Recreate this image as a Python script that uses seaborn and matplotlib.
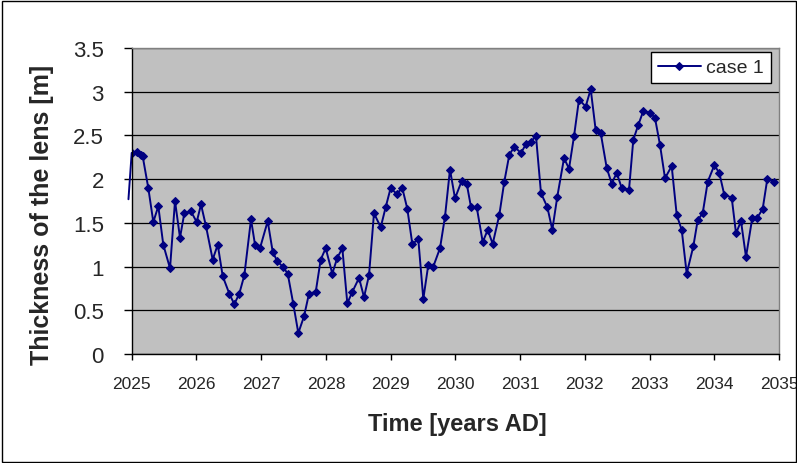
import matplotlib
matplotlib.use("Agg")
import matplotlib.pyplot as plt
import matplotlib.patches as mpatches
from matplotlib.ticker import MultipleLocator, FuncFormatter
import seaborn as sns
import pandas as pd

# ---- data ----
years_offset = [
    0.000, 0.077, 0.139, 0.170, 0.256, 0.334, 0.411, 0.488, 0.592, 0.669,
    0.746, 0.813, 0.916, 1.004, 1.071, 1.148, 1.251, 1.329, 1.406, 1.508,
    1.585, 1.662, 1.740, 1.843, 1.905, 1.982, 2.101, 2.178, 2.249, 2.333,
    2.410, 2.497, 2.574, 2.662, 2.739, 2.843, 2.920, 2.997, 3.099, 3.176,
    3.254, 3.331, 3.408, 3.512, 3.589, 3.666, 3.743, 3.847, 3.924, 4.001,
    4.094, 4.180, 4.258, 4.335, 4.428, 4.505, 4.582, 4.659, 4.763, 4.840,
    4.917, 4.995, 5.098, 5.175, 5.242, 5.330, 5.423, 5.500, 5.577, 5.679,
    5.756, 5.834, 5.911, 6.014, 6.091, 6.164, 6.246, 6.323, 6.421, 6.498,
    6.575, 6.679, 6.756, 6.833, 6.910, 7.014, 7.091, 7.168, 7.245, 7.338,
    7.415, 7.493, 7.570, 7.683, 7.749, 7.826, 7.904, 8.007, 8.084, 8.162,
    8.239, 8.342, 8.420, 8.497, 8.574, 8.676, 8.744, 8.821, 8.899, 9.001,
    9.078, 9.155, 9.269, 9.336, 9.413, 9.490, 9.588, 9.665, 9.748, 9.819,
    9.923,
]
start_year = 2025
thickness = [
    2.30, 2.31, 2.28, 2.26, 1.90, 1.51, 1.69, 1.25, 0.98, 1.75,
    1.33, 1.61, 1.63, 1.51, 1.71, 1.46, 1.08, 1.25, 0.89, 0.69,
    0.57, 0.69, 0.90, 1.54, 1.25, 1.21, 1.52, 1.17, 1.06, 1.00,
    0.92, 0.57, 0.24, 0.43, 0.69, 0.71, 1.08, 1.21, 0.92, 1.10,
    1.21, 0.58, 0.71, 0.87, 0.65, 0.90, 1.61, 1.45, 1.68, 1.90,
    1.83, 1.90, 1.66, 1.26, 1.31, 0.63, 1.02, 1.00, 1.21, 1.57,
    2.11, 1.78, 1.98, 1.95, 1.68, 1.68, 1.28, 1.42, 1.26, 1.59,
    1.97, 2.28, 2.37, 2.30, 2.40, 2.43, 2.49, 1.84, 1.68, 1.42,
    1.80, 2.24, 2.12, 2.49, 2.91, 2.83, 3.03, 2.56, 2.53, 2.13,
    1.95, 2.07, 1.90, 1.88, 2.45, 2.62, 2.78, 2.76, 2.70, 2.39,
    2.01, 2.15, 1.59, 1.42, 0.92, 1.23, 1.53, 1.61, 1.97, 2.16,
    2.07, 1.82, 1.79, 1.38, 1.52, 1.11, 1.56, 1.56, 1.66, 2.00,
    1.97,
]
# short unmarked lead-in of the line, just before the first marker
lead_in_offset = -0.05
lead_in_value = 1.77

series_name = "case 1"
x_ticks = list(range(2025, 2036))
x_label = "Time [years AD]"
y_label = "Thickness of the lens [m]"

df = pd.DataFrame({
    "time": [start_year + o for o in years_offset],
    "thickness": thickness,
})

# ---- figure ----
sns.set_style("white")
plt.rcParams["font.family"] = ["Liberation Sans", "DejaVu Sans"]

fig = plt.figure(figsize=(7.97, 4.64), dpi=100)
ax = fig.add_axes([131.7 / 797, 1 - 355 / 464, (779 - 131.7) / 797, (355 - 49) / 464])
ax.set_facecolor("#C0C0C0")

navy = "#000080"
ax.plot([start_year + lead_in_offset, df["time"].iloc[0]],
        [lead_in_value, df["thickness"].iloc[0]],
        color=navy, linewidth=1.4, clip_on=False)
sns.lineplot(data=df, x="time", y="thickness", ax=ax, color=navy,
             marker="D", markersize=4.2, markeredgecolor=navy,
             markerfacecolor=navy, linewidth=1.4,
             estimator=None, sort=False, label=series_name)

ax.set_xlim(2025, 2035)
ax.set_ylim(0, 3.5)
ax.set_xticks(x_ticks)
ax.xaxis.set_major_formatter(FuncFormatter(lambda v, p: f"{int(round(v))}"))
ax.yaxis.set_major_locator(MultipleLocator(0.5))
ax.yaxis.set_major_formatter(FuncFormatter(lambda v, p: f"{v:g}"))

ax.grid(axis="y", color="black", linewidth=0.9)
ax.grid(axis="x", visible=False)
ax.set_axisbelow(True)

for side in ["left", "bottom"]:
    ax.spines[side].set_color("black")
    ax.spines[side].set_linewidth(1.0)
for side in ["top", "right"]:
    ax.spines[side].set_color("#808080")
    ax.spines[side].set_linewidth(1.0)

ax.tick_params(axis="y", direction="out", length=6, width=1, color="black",
               labelsize=16, pad=14, left=True)
ax.tick_params(axis="x", direction="out", length=4, width=1, color="black",
               labelsize=12.5, pad=12, bottom=True)

ax.set_xlabel("")
ax.set_ylabel("")
fig.text(42 / 797, 1 - 215 / 464, y_label, rotation=90, ha="center", va="center",
         fontsize=18, fontweight="bold")
fig.text(457 / 797, 1 - 425 / 464, x_label, ha="center", va="center",
         fontsize=17, fontweight="bold")

leg = ax.legend(loc="upper right", bbox_to_anchor=((771 - 131.7) / 647.3, (355 - 53) / 306),
                borderaxespad=0, fontsize=14, frameon=True, fancybox=False,
                framealpha=1, edgecolor="black", facecolor="white",
                handlelength=2.2, handletextpad=0.3, borderpad=0.35)
leg.get_frame().set_linewidth(1.0)

fig.patches.append(mpatches.Rectangle((1.5 / 797, 1.5 / 464), 1 - 3 / 797, 1 - 3 / 464,
                                      transform=fig.transFigure, fill=False,
                                      edgecolor="black", linewidth=1.0))

fig.savefig("out.png", dpi=100)
